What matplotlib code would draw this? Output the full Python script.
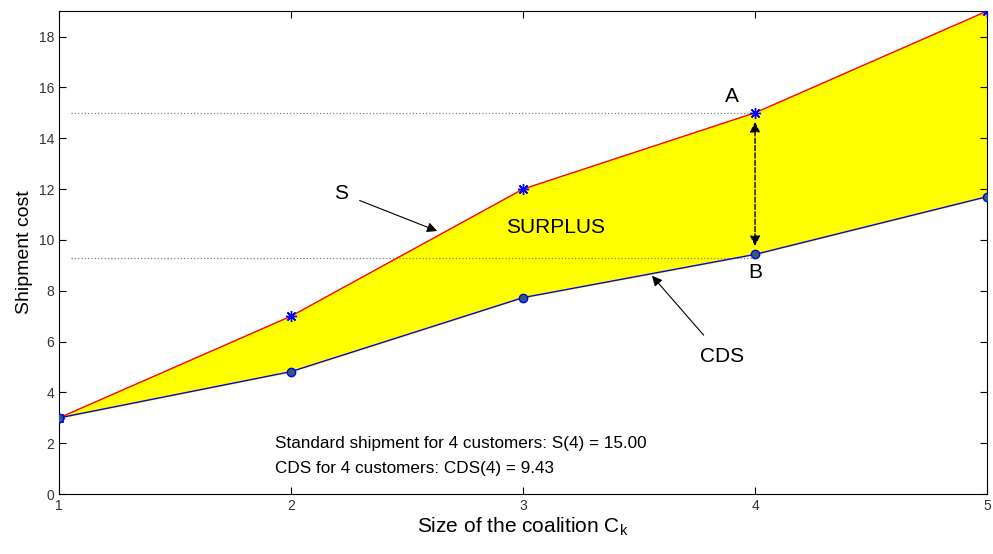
import matplotlib
matplotlib.use('Agg')
import matplotlib.pyplot as plt

plt.rcParams['font.family'] = ['Liberation Sans', 'DejaVu Sans']

# coalition size and costs
size = [1, 2, 3, 4, 5]
s_cost = [3, 7, 12, 15, 19]
cds_cost = [3, 4.82, 7.73, 9.43, 11.7]

fig = plt.figure(figsize=(9.93, 5.54), dpi=100)
ax = fig.add_axes([0.0594, 0.108, 0.9346, 0.872])

ax.fill_between(size, cds_cost, s_cost, color='#ffff00', zorder=1)
ax.plot(size, s_cost, color='red', lw=1, zorder=2)
ax.plot(size, cds_cost, color='blue', lw=1, zorder=2)
ax.plot(size, s_cost, ls='none', marker=(8, 2, 0), color='blue', mew=1, ms=8, zorder=3)
ax.plot(size, cds_cost, ls='none', marker='o', mfc='#2f5f6f', mec='blue', ms=6, zorder=3)

# reference lines for k = 4
ax.plot([1.05, 4], [s_cost[3], s_cost[3]], ls=':', color='gray', lw=0.9, zorder=1.5)
ax.plot([1.05, 4], [9.27, 9.27], ls=':', color='gray', lw=0.9, zorder=1.5)

ax.annotate('', xy=(4, 9.65), xytext=(4, 14.75),
            arrowprops=dict(arrowstyle='<|-|>', ls='--', color='black', lw=1, mutation_scale=15))

ax.text(3.9, 15.65, 'A', fontsize=15, ha='center', va='center')
ax.text(4.0, 8.7, 'B', fontsize=15, ha='center', va='center')
ax.text(3.14, 10.47, 'SURPLUS', fontsize=15, ha='center', va='center')

ax.annotate('S', xy=(2.63, 10.35), xytext=(2.215, 11.84), fontsize=15, ha='center', va='center',
            arrowprops=dict(arrowstyle='-|>', color='black', lw=0.8, mutation_scale=15, shrinkA=7, shrinkB=0))
ax.annotate('CDS', xy=(3.556, 8.59), xytext=(3.86, 5.4), fontsize=15, ha='center', va='center',
            arrowprops=dict(arrowstyle='-|>', color='black', lw=0.8, mutation_scale=15, shrinkA=9, shrinkB=0))

ax.text(1.93, 2.0, 'Standard shipment for 4 customers: S(4) = %.2f' % s_cost[3], fontsize=12.3, va='center')
ax.text(1.93, 1.02, 'CDS for 4 customers: CDS(4) = %.2f' % cds_cost[3], fontsize=12.3, va='center')

ax.set_xlim(1, 5)
ax.set_ylim(0, 19)
ax.set_xticks(size)
ax.set_yticks(range(0, 19, 2))
ax.tick_params(direction='in', top=True, right=True, labelsize=10, length=5, labelcolor='#333333')
ax.set_xlabel('Size of the coalition C$_\\mathregular{k}$', fontsize=15, labelpad=2)
ax.set_ylabel('Shipment cost', fontsize=14)

fig.savefig('out.png', dpi=100)
